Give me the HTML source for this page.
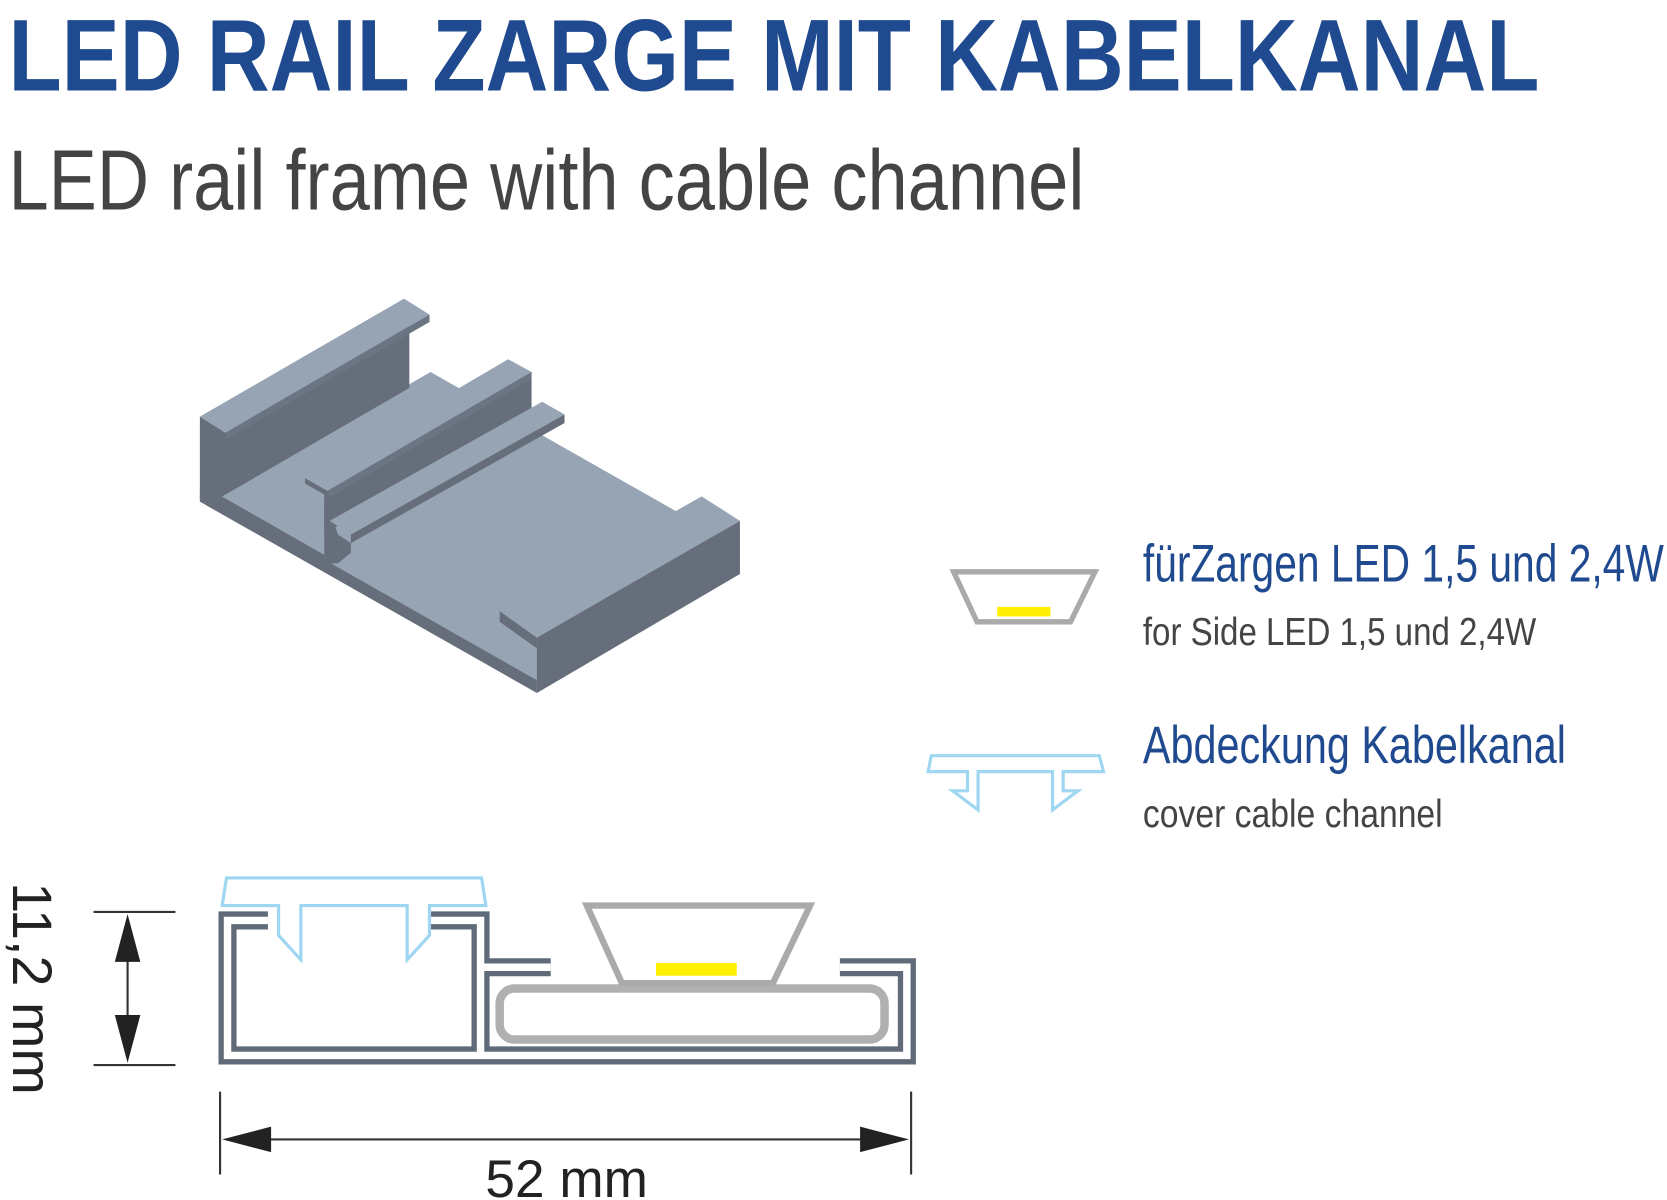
<!DOCTYPE html>
<html><head><meta charset="utf-8"><style>
html,body{margin:0;padding:0;background:#fff;}
svg{display:block}
text{font-family:"Liberation Sans",sans-serif;}
</style></head><body>
<svg width="1667" height="1200" viewBox="0 0 1568 1129" preserveAspectRatio="none" xmlns="http://www.w3.org/2000/svg">
<rect width="1568" height="1129" fill="#fff"/>
<text x="8" y="85" font-size="96" font-weight="bold" fill="#1f4a8f" textLength="1440" lengthAdjust="spacingAndGlyphs">LED RAIL ZARGE MIT KABELKANAL</text>
<text x="8" y="197" font-size="80" fill="#444" textLength="1012" lengthAdjust="spacingAndGlyphs">LED rail frame with cable channel</text>

<!-- 3D profile -->
<g stroke-linejoin="round">
<polygon points="200,468 405,350 696,515 505,642" fill="#97a4b4"/>
<!-- left wall inner face -->
<polygon points="204,412 385,305 385,365 204,470" fill="#656e7a"/>
<!-- left side end face -->
<polygon points="188,392 212,407 212,413 205,413 205,465 305,522 305,532 188,470" fill="#656e7a"/>
<!-- left top flange -->
<polygon points="188,392 380,281 404,296 212,407" fill="#97a4b4"/>
<polygon points="212,407 404,296 404,303 212,414" fill="#6b7482"/>
<!-- middle rib -->
<polygon points="305,462 500,350 500,390 305,502" fill="#656e7a"/>
<polygon points="287,450 478,338 500,350 308,462" fill="#97a4b4"/>
<polygon points="287,450 308,462 308,467 287,455" fill="#656e7a"/>
<polygon points="308,462 500,350 500,357 308,469" fill="#6b7482"/>
<polygon points="305,469 305,530 318,530 318,503" fill="#656e7a"/>
<!-- step plate -->
<polygon points="310,490 510,378 531,390 330,503" fill="#97a4b4"/>
<polygon points="330,503 531,390 531,398 330,511" fill="#656e7a"/>
<polygon points="318,503 330,511 330,520 318,530" fill="#656e7a"/>
<!-- front bottom edge -->
<polygon points="188,460 505,640 505,652 188,472" fill="#656e7a"/>
<!-- right wall -->
<polygon points="470,575 660,467 696,490 505,600" fill="#97a4b4"/>
<polygon points="470,575 505,600 505,610 470,585" fill="#656e7a"/>
<polygon points="505,600 696,490 696,540 505,652" fill="#656e7a"/>
</g>

<!-- right icons -->
<polygon points="897,538 1030,538 1007,585 919,585" fill="none" stroke="#aaa" stroke-width="5"/>
<rect x="938" y="571" width="50" height="9" fill="#ffef00"/>
<text x="1075" y="547" font-size="50" fill="#1f4a8f" textLength="490" lengthAdjust="spacingAndGlyphs">fürZargen LED 1,5 und 2,4W</text>
<text x="1075" y="607" font-size="37" fill="#444" textLength="370" lengthAdjust="spacingAndGlyphs">for Side LED 1,5 und 2,4W</text>

<path d="M876,711 L1034,711 L1038,726 L1000,726 L1000,744 L1014,744 L990,762 L990,726 L920,726 L920,762 L896,744 L910,744 L910,726 L873,726 Z" fill="#fff" stroke="#9fd6f2" stroke-width="3"/>
<text x="1075" y="718" font-size="50" fill="#1f4a8f" textLength="398" lengthAdjust="spacingAndGlyphs">Abdeckung Kabelkanal</text>
<text x="1075" y="778" font-size="37" fill="#444" textLength="282" lengthAdjust="spacingAndGlyphs">cover cable channel</text>

<!-- cross section -->
<g fill="none" stroke-linejoin="miter" stroke-linecap="butt">
<path d="M252,866 L214,866 L214,993 L853,993 L853,910 L790,910 M452,993 L452,866 L405,866 M452,910 L518,910" stroke="#5f6b78" stroke-width="17"/>
<path d="M252,866 L214,866 L214,993 L853,993 L853,910 L790,910 M452,993 L452,866 L405,866 M452,910 L518,910" stroke="#fff" stroke-width="7"/>
</g>
<path d="M213,826 L453,826 L457,852 L404,852 L404,880 L383,903 L383,852 L283,852 L283,903 L262,880 L262,852 L209,852 Z" fill="#fff" stroke="#9fd6f2" stroke-width="3"/>
<rect x="470" y="930" width="362" height="48" rx="14" fill="none" stroke="#b0b0b0" stroke-width="8"/>
<polygon points="552,852 762,852 727,925 585,925" fill="#fff" stroke="#aaa" stroke-width="6"/>
<rect x="617" y="906" width="76" height="12" fill="#ffef00"/>

<!-- dimensions -->
<g stroke="#333" stroke-width="2">
<line x1="88" y1="858" x2="165" y2="858"/>
<line x1="88" y1="1002" x2="165" y2="1002"/>
<line x1="120" y1="880" x2="120" y2="980"/>
<line x1="207" y1="1027" x2="207" y2="1105"/>
<line x1="857" y1="1027" x2="857" y2="1105"/>
<line x1="230" y1="1072" x2="835" y2="1072"/>
</g>
<polygon points="120,860 108,905 132,905" fill="#222"/>
<polygon points="120,1000 108,955 132,955" fill="#222"/>
<polygon points="209,1072 255,1060 255,1084" fill="#222"/>
<polygon points="855,1072 809,1060 809,1084" fill="#222"/>
<text x="0" y="0" font-size="52" fill="#222" transform="translate(12,830) rotate(90)" textLength="200" lengthAdjust="spacingAndGlyphs">11,2 mm</text>
<text x="533" y="1126" font-size="50" fill="#222" text-anchor="middle">52 mm</text>
</svg>
</body></html>
